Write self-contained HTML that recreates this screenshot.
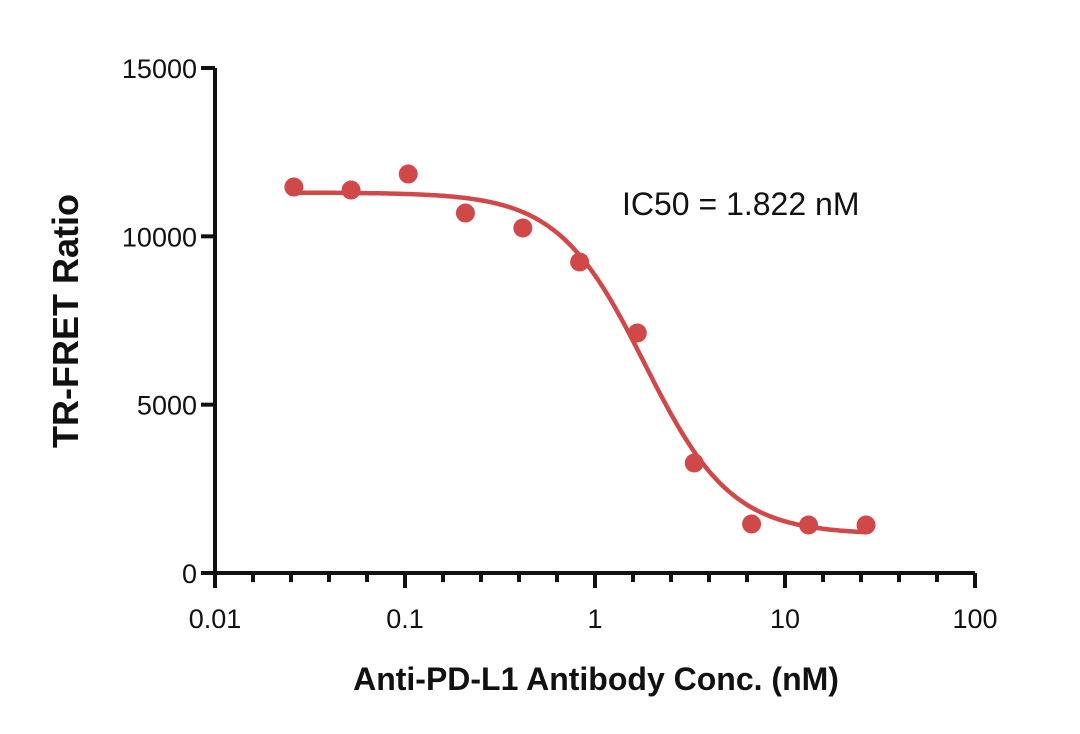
<!DOCTYPE html>
<html><head><meta charset="utf-8"><style>
html,body{margin:0;padding:0;background:#fff;}
svg{display:block;font-family:"Liberation Sans",sans-serif;}
</style></head><body>
<svg id="chart" width="1080" height="734" viewBox="0 0 1080 734">
<g id="axes"></g>
<g id="series"></g>
<text x="622" y="215" font-size="32" fill="#111">IC50 = 1.822 nM</text>
<text x="596" y="690" font-size="32" font-weight="bold" text-anchor="middle" fill="#111">Anti-PD-L1 Antibody Conc. (nM)</text>
<text transform="translate(78,321) rotate(-90)" font-size="36" font-weight="bold" text-anchor="middle" fill="#111">TR-FRET Ratio</text>
</svg>
<script>
const concentrations=[0.026,0.052,0.104,0.208,0.417,0.83,1.67,3.33,6.67,13.3,26.7];
const ratios=[11464,11375,11850,10692,10247,9237,7128,3267,1455,1425,1425];
const xTickValues=[0.01,0.1,1,10,100];
const xTickLabels=["0.01","0.1","1","10","100"];
const yTickValues=[0,5000,10000,15000];
const yTickLabels=["0","5000","10000","15000"];
const fitTop=[11300];
const fitBottom=[1150];
const fitIC50=[1.822];
const fitHill=[1.9];

const NS="http://www.w3.org/2000/svg";
const X0=215,X1=975,Y0=573,Y1=68;
function sx(v){return X0+(Math.log10(v)-(-2))/4*(X1-X0);}
function sy(v){return Y0-(v/15000)*(Y0-Y1);}
function mk(tag,attrs,parent){const e=document.createElementNS(NS,tag);for(const k in attrs)e.setAttribute(k,attrs[k]);parent.appendChild(e);return e;}
const axes=document.getElementById('axes'),series=document.getElementById('series');
let yl=mk('line',{x1:X0,y1:Y1,x2:X0,y2:Y0+2,stroke:'#111','stroke-width':4},axes);


let xl=mk('line',{x1:X0-2,y1:Y0,x2:X1,y2:Y0,stroke:'#111','stroke-width':4},axes);


yTickValues.forEach((v,i)=>{
  let t=mk('line',{x1:X0-14,y1:sy(v),x2:X0,y2:sy(v),stroke:'#111','stroke-width':4},axes);
  
  
  let l=mk('text',{x:X0-18,y:sy(v)+10,'font-size':27,'text-anchor':'end',fill:'#111'},axes);
  l.textContent=yTickLabels[i];
  
  
});
xTickValues.forEach((v,i)=>{
  let t=mk('line',{x1:sx(v),y1:Y0,x2:sx(v),y2:Y0+15,stroke:'#111','stroke-width':4},axes);
  
  
  let l=mk('text',{x:sx(v),y:Y0+55,'font-size':27,'text-anchor':'middle',fill:'#111'},axes);
  l.textContent=xTickLabels[i];
  
  
  if(i<xTickValues.length-1){
    for(let m=1;m<5;m++){
      let mv=v*Math.pow(10,m/5);
      let mt=mk('line',{x1:sx(mv),y1:Y0,x2:sx(mv),y2:Y0+9,stroke:'#111','stroke-width':4},axes);
      
      
    }
  }
});
function fit(c){return fitBottom[0]+(fitTop[0]-fitBottom[0])/(1+Math.pow(c/fitIC50[0],fitHill[0]));}
let d='';
for(let i=0;i<=200;i++){const lc=Math.log10(concentrations[0])+i/200*(Math.log10(concentrations[concentrations.length-1])-Math.log10(concentrations[0]));const c=Math.pow(10,lc);d+=(i?'L':'M')+sx(c).toFixed(1)+','+sy(fit(c)).toFixed(1);}
let p=mk('path',{d:d,fill:'none',stroke:'#d04848','stroke-width':4.5},series);


concentrations.forEach((c,i)=>{
  let pt=mk('circle',{cx:sx(c),cy:sy(ratios[i]),r:9.5,fill:'#d04848'},series);
  
  
});
</script>
</body></html>
